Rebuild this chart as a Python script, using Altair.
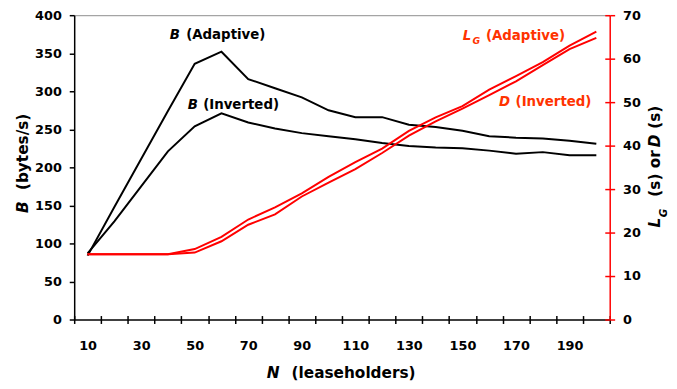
import altair as alt
import pandas as pd

# ---------------- data ----------------
N = [10, 20, 30, 40, 50, 60, 70, 80, 90, 100, 110, 120, 130, 140, 150, 160, 170, 180, 190, 200]
b_adaptive = [84, 148, 211, 274, 336, 352, 316, 304, 292, 275, 266, 266, 256, 253, 248, 241, 239, 238, 235, 231]
b_inverted = [87, 129, 175, 221, 254, 271, 259, 251, 245, 241, 237, 232, 228, 226, 225, 222, 218, 220, 216, 216]
lg_adaptive = [15, 15, 15, 15, 16.2, 19.0, 23.0, 25.8, 29.0, 32.8, 36.2, 39.3, 43.4, 46.5, 49.1, 52.9, 56.0, 59.2, 63.0, 66.2]
d_inverted = [15, 15, 15, 15, 15.4, 18.0, 21.8, 24.2, 28.3, 31.5, 34.6, 38.3, 42.3, 45.6, 48.5, 51.6, 54.8, 58.5, 62.2, 64.8]
b_ticks = [0, 50, 100, 150, 200, 250, 300, 350, 400]
r_ticks = [0, 10, 20, 30, 40, 50, 60, 70]

W, H = 542, 308
FONT = "DejaVu Sans"
RED = "#ff0000"
LRED = "#ff3300"

b_df = pd.DataFrame({"N": N + N, "v": b_adaptive + b_inverted,
                     "s": ["Adaptive"] * len(N) + ["Inverted"] * len(N)})
r_df = pd.DataFrame({"N": N + N, "v": lg_adaptive + d_inverted,
                     "s": ["Adaptive"] * len(N) + ["Inverted"] * len(N)})
one = pd.DataFrame({"k": [0]})

x_scale = alt.Scale(type="band", domain=N, paddingInner=0, paddingOuter=0)
yb_scale = alt.Scale(domain=[0, 400], nice=False)
yr_scale = alt.Scale(domain=[0, 70], nice=False)


def xenc(axis):
    return alt.X("N:O", scale=x_scale, bandPosition=0.5, axis=axis)


lab = dict(labelFont=FONT, labelFontSize=13, labelFontWeight="bold", labelColor="black")

axis_bottom = alt.Axis(orient="bottom", title=None, tickBand="extent", labelAngle=0,
                       labelExpr="datum.value % 20 == 10 ? datum.label : ''",
                       labelPadding=16, tickSize=4, tickColor="black", tickWidth=1.5,
                       domainColor="black", domainWidth=1.5, grid=False, labelOverlap=False, **lab)
axis_top = alt.Axis(orient="top", title=None, domain=True, domainColor="#8c8c8c", domainWidth=1,
                    ticks=False, labels=False, grid=False)
axis_bottom_in = alt.Axis(orient="bottom", title=None, offset=-4, tickSize=4, tickBand="extent",
                          domain=False, labels=False, tickColor="black", tickWidth=1.5, grid=False)

axis_left = alt.Axis(orient="left", title=None, values=b_ticks, tickSize=5, tickColor="black",
                     tickWidth=1.5, domainColor="black", domainWidth=1.5, labelPadding=8,
                     grid=False, **lab)
axis_right = alt.Axis(orient="right", title=None, values=r_ticks, tickSize=5, tickColor=RED,
                      tickWidth=1.5, domainColor=RED, domainWidth=1.5, labelPadding=8,
                      grid=False, **lab)
axis_right_in = alt.Axis(orient="right", title=None, values=r_ticks, offset=-5, tickSize=5,
                         tickColor=RED, tickWidth=1.5, domain=False, labels=False, grid=False)

b_lines = alt.Chart(b_df).mark_line(color="black", strokeWidth=2).encode(
    x=xenc(axis_bottom),
    y=alt.Y("v:Q", scale=yb_scale, axis=axis_left),
    detail="s:N",
)

r_lines = alt.Chart(r_df).mark_line(color=RED, strokeWidth=2).encode(
    x=xenc(axis_top),
    y=alt.Y("v:Q", scale=yr_scale, axis=axis_right),
    detail="s:N",
)

helper = alt.Chart(r_df).mark_line(opacity=0).encode(
    x=xenc(axis_bottom_in),
    y=alt.Y("v:Q", scale=yr_scale, axis=axis_right_in),
    detail="s:N",
)


def txt(s, x, y, size, italic=False, color="black", angle=0):
    return alt.Chart(one).mark_text(
        text=s, font=FONT, fontSize=size, fontWeight="bold",
        fontStyle="italic" if italic else "normal", color=color,
        align="left", baseline="alphabetic", angle=angle,
    ).encode(x=alt.value(x), y=alt.value(y))


texts = [
    # series labels
    txt("B", 96.7, 23.7, 13.5, italic=True),
    txt("(Adaptive)", 113.3, 23.7, 13.5),
    txt("B", 115, 94.7, 13.5, italic=True),
    txt("(Inverted)", 130.5, 94.7, 13.5),
    txt("L", 393.3, 25.3, 13.5, italic=True, color=LRED),
    txt("G", 403.0, 28.8, 9.5, italic=True, color=LRED),
    txt("(Adaptive)", 416.7, 25.3, 13.5, color=LRED),
    txt("D", 430, 92, 13.5, italic=True, color=LRED),
    txt("(Inverted)", 446.7, 92, 13.5, color=LRED),
    # left title
    txt("B", -46.7, 200.3, 15.5, italic=True, angle=270),
    txt("(bytes/s)", -46.7, 177, 15.5, angle=270),
    # right title
    txt("L", 593.3, 215, 15.5, italic=True, angle=270),
    txt("G", 600, 204.5, 10.5, italic=True, angle=270),
    txt("(s) or", 593.3, 183.7, 15.5, angle=270),
    txt("D", 593.3, 133.7, 15.5, italic=True, angle=270),
    txt("(s)", 593.3, 115, 15.5, angle=270),
    # x title
    txt("N", 195, 367.7, 15.5, italic=True),
    txt("(leaseholders)", 220, 367.7, 15.5),
]

chart = alt.layer(b_lines, r_lines, helper, *texts).resolve_scale(
    y="independent"
).resolve_axis(
    x="independent", y="independent"
).properties(
    width=W, height=H,
    autosize=alt.AutoSizeParams(type="none"),
    padding={"left": 67, "top": 5, "right": 60, "bottom": 64},
    background="white",
).configure_view(stroke=None)

chart.save("out.html", embed_options={"renderer": "svg", "actions": False})
